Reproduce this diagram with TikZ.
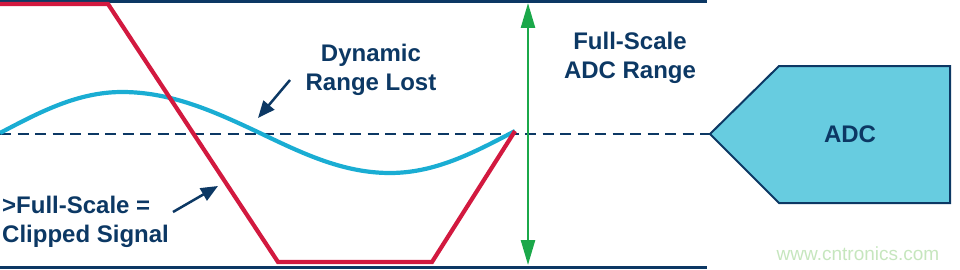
\documentclass[tikz,border=0pt]{standalone}
\usepackage{fontspec}
\setmainfont{Liberation Sans}
\usetikzlibrary{arrows.meta}
\definecolor{navy}{HTML}{0C3864}
\definecolor{sigred}{HTML}{D2193F}
\definecolor{sigblue}{HTML}{1AADD3}
\definecolor{rangegreen}{HTML}{1BA84A}
\definecolor{adcfill}{HTML}{67CCE0}
\definecolor{wmark}{HTML}{C6E6BE}
\begin{document}
\begin{tikzpicture}[x=1pt,y=-1pt,
  lbl/.style={font=\bfseries\fontsize{24}{28.5}\selectfont, text=navy, inner sep=0pt},
  rail/.style={draw=navy, line width=3pt},
  midline/.style={draw=navy, line width=2.2pt, dash pattern=on 11pt off 6.5pt},
  sigline/.style={line width=4.2pt},
  callout/.style={draw=navy, line width=2.5pt, -{Triangle[length=17pt,width=14pt]}},
  rangearrow/.style={draw=rangegreen, line width=2.5pt, {Triangle[length=25pt,width=14pt]}-{Triangle[length=25pt,width=14pt]}}
]
\useasboundingbox (0,0) rectangle (960,270);
% rails
\coordinate (tl) at (0,2); \coordinate (tr) at (707,2);
\coordinate (bl) at (0,267); \coordinate (br) at (707,267);
\draw[rail] (tl) -- (tr);
\draw[rail] (bl) -- (br);
% ADC block
\coordinate (adctip) at (710,134);
\draw[draw=navy, fill=adcfill, line width=2pt, line join=miter]
  (adctip) -- (779,66) -- (950,66) -- (950,203) -- (779,203) -- cycle;
\node[lbl] (adc) at (850,134) {ADC};
% mid dashed line
\coordinate (ml) at (0,134);
\draw[midline] (ml) -- (adctip);
% signals
\coordinate (s0) at (0,133);
\coordinate (send) at (515,131);
\draw[sigline, sigblue] (s0) sin (122,92) cos (262,134) sin (390,173) cos (send);
\draw[sigline, sigred, line join=miter] (0,4) -- (108,4) -- (278,262) -- (432,262) -- (send);
% full-scale arrow
\coordinate (gtop) at (528,3);
\coordinate (gbot) at (528,265);
\draw[rangearrow] (gbot) -- (gtop);
% labels (base anchor = baseline of last line)
\node[lbl, align=center, anchor=base] (dyn) at (371,90) {Dynamic\\Range Lost};
\node[lbl, align=center, anchor=base] (fs) at (630,78) {Full-Scale\\ADC Range};
\node[lbl, align=left, anchor=base west] (clip) at (2,242) {>Full-Scale =\\Clipped Signal};
% callout arrows
\coordinate (dyntail) at (290,80);
\coordinate (dynhead) at (258,118);
\draw[callout] (dyntail) -- (dynhead);
\coordinate (cliptail) at (173,212);
\coordinate (cliphead) at (218,186);
\draw[callout] (cliptail) -- (cliphead);
% watermark
\node[font=\fontsize{19}{22}\selectfont, text=wmark, inner sep=0pt, anchor=base] (wm) at (858,260) {www.cntronics.com};
\end{tikzpicture}
\end{document}
